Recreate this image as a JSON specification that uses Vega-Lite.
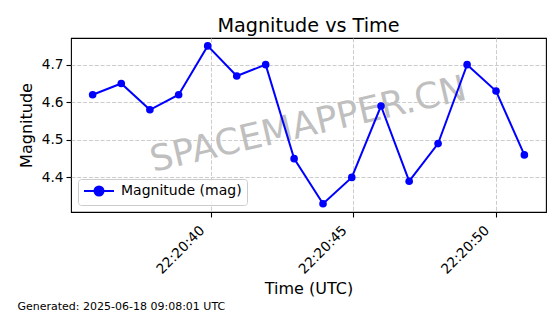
{
  "$schema": "https://vega.github.io/schema/vega-lite/v6.json",
  "width": 475,
  "height": 174,
  "autosize": {"type": "none"},
  "padding": {"left": 71, "top": 38, "right": 14, "bottom": 102},
  "background": "white",
  "config": {
    "font": "DejaVu Sans",
    "view": {"stroke": "#000000", "strokeWidth": 1.1},
    "axis": {
      "domain": false,
      "grid": true,
      "gridColor": "#cccccc",
      "gridDash": [4, 1.8],
      "gridWidth": 1,
      "tickColor": "#000000",
      "tickSize": 5,
      "tickWidth": 1.1,
      "labelColor": "#000000",
      "labelFontSize": 13.7,
      "titleColor": "#000000",
      "titleFontSize": 16,
      "titleFontWeight": "normal"
    }
  },
  "title": {
    "text": "Magnitude vs Time",
    "fontSize": 19.2,
    "fontWeight": "normal",
    "color": "#000000",
    "offset": 2
  },
  "datasets": {
    "mag": [
      {"t": "2025-06-17T22:20:35.840Z", "v": 4.62, "series": "Magnitude (mag)"},
      {"t": "2025-06-17T22:20:36.845Z", "v": 4.65, "series": "Magnitude (mag)"},
      {"t": "2025-06-17T22:20:37.850Z", "v": 4.58, "series": "Magnitude (mag)"},
      {"t": "2025-06-17T22:20:38.860Z", "v": 4.62, "series": "Magnitude (mag)"},
      {"t": "2025-06-17T22:20:39.880Z", "v": 4.75, "series": "Magnitude (mag)"},
      {"t": "2025-06-17T22:20:40.900Z", "v": 4.67, "series": "Magnitude (mag)"},
      {"t": "2025-06-17T22:20:41.915Z", "v": 4.70, "series": "Magnitude (mag)"},
      {"t": "2025-06-17T22:20:42.915Z", "v": 4.45, "series": "Magnitude (mag)"},
      {"t": "2025-06-17T22:20:43.930Z", "v": 4.33, "series": "Magnitude (mag)"},
      {"t": "2025-06-17T22:20:44.940Z", "v": 4.40, "series": "Magnitude (mag)"},
      {"t": "2025-06-17T22:20:45.965Z", "v": 4.59, "series": "Magnitude (mag)"},
      {"t": "2025-06-17T22:20:46.955Z", "v": 4.39, "series": "Magnitude (mag)"},
      {"t": "2025-06-17T22:20:47.970Z", "v": 4.49, "series": "Magnitude (mag)"},
      {"t": "2025-06-17T22:20:48.990Z", "v": 4.70, "series": "Magnitude (mag)"},
      {"t": "2025-06-17T22:20:50.005Z", "v": 4.63, "series": "Magnitude (mag)"},
      {"t": "2025-06-17T22:20:51.000Z", "v": 4.46, "series": "Magnitude (mag)"}
    ],
    "watermark": [
      {"t": "2025-06-17T22:20:43.410Z", "v": 4.54, "label": "SPACEMAPPER.CN"}
    ],
    "footer": [
      {"t": "2025-06-17T22:20:33.200Z", "v": 4.0485, "label": "Generated: 2025-06-18 09:08:01 UTC"}
    ]
  },
  "encoding": {
    "x": {
      "field": "t",
      "type": "temporal",
      "title": "Time (UTC)",
      "scale": {
        "type": "utc",
        "domain": [
          {"year": 2025, "month": 6, "date": 17, "hours": 22, "minutes": 20, "seconds": 35, "milliseconds": 80, "utc": true},
          {"year": 2025, "month": 6, "date": 17, "hours": 22, "minutes": 20, "seconds": 51, "milliseconds": 760, "utc": true}
        ]
      },
      "axis": {
        "format": "%H:%M:%S",
        "values": [
          {"year": 2025, "month": 6, "date": 17, "hours": 22, "minutes": 20, "seconds": 40, "utc": true},
          {"year": 2025, "month": 6, "date": 17, "hours": 22, "minutes": 20, "seconds": 45, "utc": true},
          {"year": 2025, "month": 6, "date": 17, "hours": 22, "minutes": 20, "seconds": 50, "utc": true}
        ],
        "labelAngle": -45,
        "labelAlign": "right",
        "labelBaseline": "top",
        "labelPadding": 6,
        "labelOffset": -14,
        "titlePadding": 4
      }
    },
    "y": {
      "field": "v",
      "type": "quantitative",
      "title": "Magnitude",
      "scale": {"domain": [4.308, 4.771], "zero": false, "nice": false},
      "axis": {
        "values": [4.4, 4.5, 4.6, 4.7],
        "format": ".1f",
        "labelPadding": 3,
        "titlePadding": 7
      }
    }
  },
  "layer": [
    {
      "data": {"name": "watermark"},
      "mark": {"type": "text", "angle": 347, "fontSize": 36, "fill": "#bfbfbf", "align": "center", "baseline": "middle"},
      "encoding": {"text": {"field": "label"}}
    },
    {
      "data": {"name": "mag"},
      "mark": {"type": "line", "color": "#0000ff", "strokeWidth": 2}
    },
    {
      "data": {"name": "mag"},
      "mark": {"type": "point", "filled": true, "size": 58, "opacity": 1},
      "encoding": {
        "color": {
          "field": "series",
          "type": "nominal",
          "scale": {"range": ["#0000ff"]},
          "legend": {
            "title": null,
            "orient": "bottom-left",
            "offset": 7,
            "padding": 5,
            "fillColor": "rgba(255,255,255,0.8)",
            "strokeColor": "#cccccc",
            "cornerRadius": 3,
            "labelFontSize": 14,
            "labelColor": "#000000",
            "symbolType": "M-3,0H3M0.9,0A0.9,0.9,0,1,1,-0.9,0A0.9,0.9,0,1,1,0.9,0Z",
            "symbolSize": 100,
            "symbolOffset": 9,
            "labelOffset": 15,
            "symbolFillColor": "#0000ff",
            "symbolStrokeColor": "#0000ff",
            "symbolStrokeWidth": 2,
            "symbolOpacity": 1,
            "encode": {
              "symbols": {
                "update": {
                  "stroke": {"value": "#0000ff"},
                  "strokeWidth": {"value": 2},
                  "fill": {"value": "#0000ff"}
                }
              }
            }
          }
        }
      }
    },
    {
      "data": {"name": "footer"},
      "mark": {"type": "text", "fontSize": 11, "fill": "#000000", "align": "left", "baseline": "alphabetic"},
      "encoding": {"text": {"field": "label"}}
    }
  ]
}
